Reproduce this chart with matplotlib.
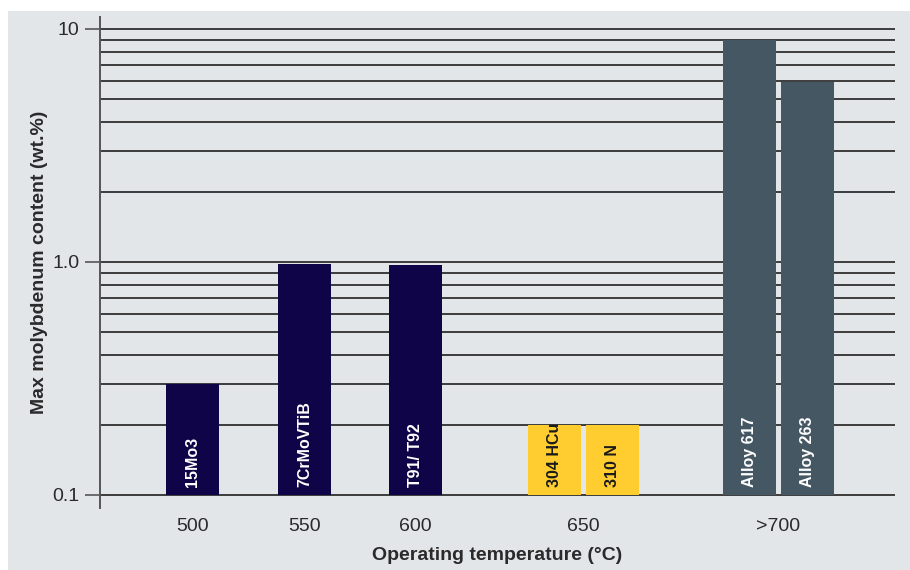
"""
Max molybdenum content vs operating temperature (log scale bar chart)
"""
import matplotlib.pyplot as plt
from matplotlib.patches import Rectangle
from matplotlib import font_manager

# --- data ---
temp_labels = ["500", "550", "600", "650", ">700"]
steels = ["15Mo3", "7CrMoVTiB", "T91/ T92", "304 HCu", "310 N", "Alloy 617", "Alloy 263"]
steel_group = [0, 1, 2, 3, 3, 4, 4]
mo_content = [0.30, 0.98, 0.97, 0.20, 0.20, 9.0, 5.9]
steel_kind = ["ferritic", "ferritic", "ferritic", "austenitic", "austenitic", "nickel", "nickel"]

# --- layout / style ---
group_x = [92.5, 204.5, 315.5, 483.5, 678.5]   # centres in axis units (~px)
bar_offset = {0: [0], 1: [0], 2: [0], 3: [-29, 29], 4: [-29, 29]}
bar_w = 53
colors = {"ferritic": "#0e0447", "austenitic": "#ffcd30", "nickel": "#465764"}
text_colors = {"ferritic": "white", "austenitic": "#1a1a1a", "nickel": "white"}

names = [f.name for f in font_manager.fontManager.ttflist]
narrow = "Liberation Sans Narrow" if "Liberation Sans Narrow" in names else "Liberation Sans"
plt.rcParams["font.family"] = [narrow, "DejaVu Sans"]

fig = plt.figure(figsize=(9.1, 5.7), dpi=100, facecolor="white")
fig.patches.append(Rectangle((8 / 910, 0), 902 / 910, 559 / 570, transform=fig.transFigure,
                             facecolor="#e3e6e9", edgecolor="none", zorder=-10))
ax = fig.add_axes([100 / 910, 62 / 570, 795 / 910, 491 / 570])
ax.set_facecolor("none")
ax.set_yscale("log")
ax.set_xlim(0, 795)
ax.set_ylim(10 ** -1.0558, 10 ** 1.0515)

# horizontal grid lines, every 1..9 of each decade
for dec in [0.1, 1.0]:
    for k in range(1, 10):
        ax.axhline(dec * k, color="#3c3c3c", lw=1.4, zorder=1)
ax.axhline(10, color="#3c3c3c", lw=1.4, zorder=1)

# bars
pos = []
for i, g in enumerate(steel_group):
    n_before = steel_group[:i].count(g)
    pos.append(group_x[g] + bar_offset[g][n_before])
for x, v, kind, name in zip(pos, mo_content, steel_kind, steels):
    ax.bar(x, v - 0.1, bottom=0.1, width=bar_w, color=colors[kind], zorder=2)
    ax.text(x, 0.108, name, rotation=90, ha="center", va="bottom",
            color=text_colors[kind], fontsize=11.5, fontweight="bold", zorder=3)

# axes styling
for s in ["top", "right", "bottom"]:
    ax.spines[s].set_visible(False)
ax.spines["left"].set_color("#555555")
ax.spines["left"].set_linewidth(1.4)
ax.set_yticks([0.1, 1.0, 10])
ax.set_yticklabels(["0.1", "1.0", "10"])
ax.yaxis.set_minor_locator(plt.NullLocator())
ax.tick_params(axis="y", length=11, width=1.2, color="#555555", labelsize=14,
               labelcolor="#2a2a2a", pad=4)
ax.set_xticks(group_x)
ax.set_xticklabels(temp_labels)
ax.tick_params(axis="x", length=0, labelsize=14, labelcolor="#2a2a2a", pad=7)

ax.set_xlabel("Operating temperature (°C)", fontsize=14, fontweight="bold",
              color="#2a2a2a", labelpad=9)
ax.set_ylabel("Max molybdenum content (wt.%)", fontsize=14, fontweight="bold",
              color="#2a2a2a", labelpad=3)

fig.savefig("out.png", dpi=100, facecolor="white")
